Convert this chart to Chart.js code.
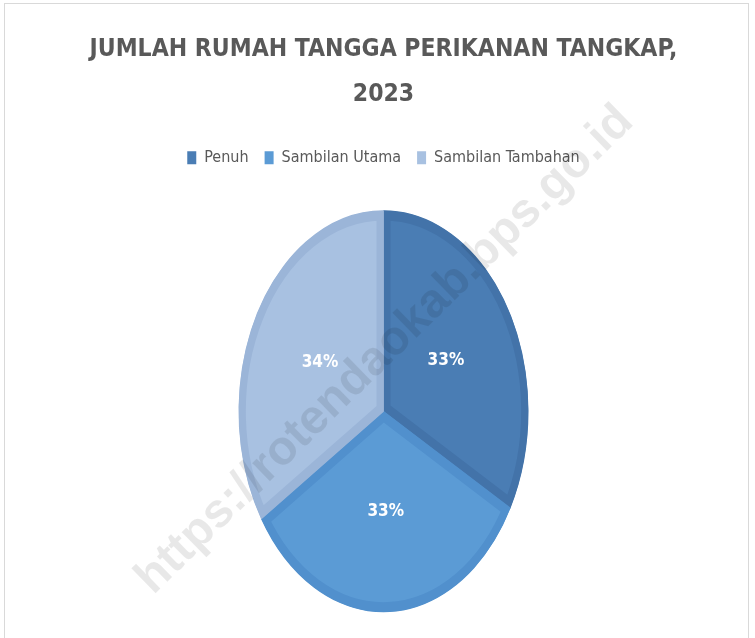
<!DOCTYPE html>
<html>
<head>
<meta charset="utf-8">
<script src="https://cdn.jsdelivr.net/npm/chart.js@4.4.1/dist/chart.umd.min.js"></script>
<style>
  html, body { margin: 0; padding: 0; background: #fff; }
  #wrap { position: relative; width: 755px; height: 638px; overflow: hidden; }
  #frame { position: absolute; left: 4px; top: 3px; width: 745px; height: 660px; border: 1px solid #d9d9d9; box-sizing: border-box; }
  canvas { position: absolute; left: 0; top: 0; }
</style>
</head>
<body>
<div id="wrap">
  <div id="frame"></div>
  <canvas id="pie" width="755" height="650"></canvas>
</div>
<script>
const kategori = ["Penuh", "Sambilan Utama", "Sambilan Tambahan"];
const persen = [33, 33, 34];
const judul = ["JUMLAH RUMAH TANGGA PERIKANAN TANGKAP,", "2023"];
const warna = ["#4a7db4", "#5b9bd5", "#a8c1e1"];
const warnaTepi = ["#4373a9", "#5190cd", "#9bb5d8"];
const watermark = "https://rotendaokab.bps.go.id";

const fontNarrow = '"DejaVu Sans Condensed", "Liberation Sans Narrow", sans-serif';
const tarikY = 201 / 145; // pie di gambar asli tertarik vertikal

const elips = {
  id: 'elips',
  beforeDatasetsDraw(chart) {
    const arc = chart.getDatasetMeta(0).data[0];
    const ctx = chart.ctx;
    ctx.save();
    ctx.translate(0, arc.y);
    ctx.scale(1, tarikY);
    ctx.translate(0, -arc.y);
  },
  afterDatasetsDraw(chart) {
    const ctx = chart.ctx;
    ctx.restore();
    const meta = chart.getDatasetMeta(0);
    ctx.save();
    ctx.font = 'bold 17px ' + fontNarrow;
    ctx.fillStyle = '#ffffff';
    ctx.textAlign = 'center';
    ctx.textBaseline = 'middle';
    meta.data.forEach((arc, i) => {
      const mid = (arc.startAngle + arc.endAngle) / 2;
      const r = arc.outerRadius * 0.5;
      const x = arc.x + Math.cos(mid) * r;
      const y = arc.y + Math.sin(mid) * r * tarikY;
      ctx.fillText(persen[i] + '%', x, y);
    });
    ctx.restore();
  },
  afterDraw(chart) {
    const ctx = chart.ctx;
    ctx.save();
    ctx.translate(385, 350);
    ctx.rotate(-44.4 * Math.PI / 180);
    ctx.font = 'bold 48px "Liberation Sans", Arial, sans-serif';
    ctx.fillStyle = 'rgba(0,0,0,0.09)';
    ctx.textAlign = 'center';
    ctx.textBaseline = 'middle';
    ctx.fillText(watermark, 0, 0);
    ctx.restore();
  }
};

new Chart(document.getElementById('pie'), {
  type: 'pie',
  data: {
    labels: kategori,
    datasets: [{
      data: persen,
      backgroundColor: warna,
      borderColor: warnaTepi,
      borderWidth: 7,
      borderAlign: 'inner'
    }]
  },
  options: {
    responsive: false,
    animation: false,
    events: [],
    radius: 145,
    layout: { padding: { left: 12, right: 0, top: 5, bottom: 3 } },
    plugins: {
      title: {
        display: true,
        text: judul,
        color: '#595959',
        font: { family: fontNarrow, size: 24.5, weight: 'bold', lineHeight: 1.85 },
        padding: { top: 22, bottom: 16 }
      },
      legend: {
        position: 'top',
        labels: {
          color: '#595959',
          font: { family: fontNarrow, size: 16 },
          boxWidth: 9,
          boxHeight: 13,
          padding: 16,
          generateLabels(chart) {
            const dasar = Chart.overrides.pie.plugins.legend.labels.generateLabels(chart);
            return dasar.map(l => Object.assign(l, { lineWidth: 0 }));
          }
        }
      },
      tooltip: { enabled: false }
    }
  },
  plugins: [elips]
});
</script>
</body>
</html>
